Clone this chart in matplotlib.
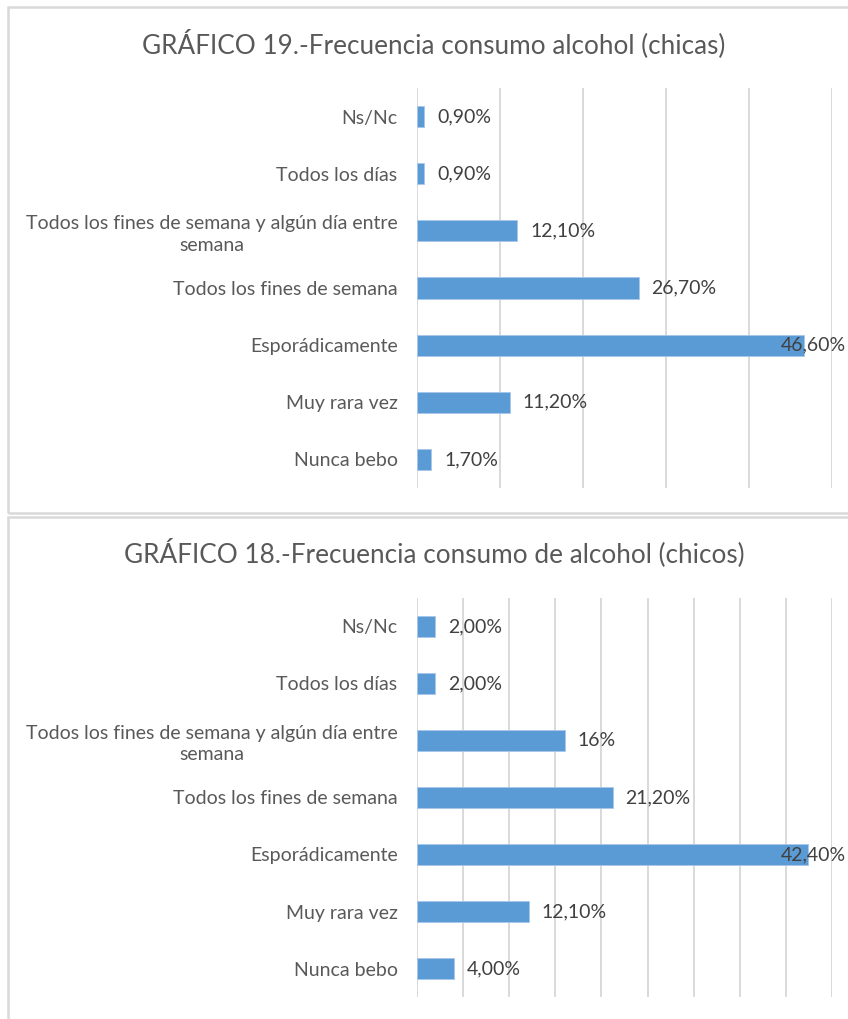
import numpy as np
import matplotlib
matplotlib.use('Agg')
import matplotlib.pyplot as plt
from matplotlib.patches import Rectangle
import matplotlib.transforms as mtrans

plt.rcParams['font.family'] = ['Lato', 'DejaVu Sans']

# Datos
categorias = ['Ns/Nc', 'Todos los días',
              'Todos los fines de semana y algún día entre\nsemana',
              'Todos los fines de semana', 'Esporádicamente',
              'Muy rara vez', 'Nunca bebo']
chicas = [0.9, 0.9, 12.1, 26.7, 46.6, 11.2, 1.7]
chicas_etiquetas = ['0,90%', '0,90%', '12,10%', '26,70%', '46,60%', '11,20%', '1,70%']
chicos = [2.0, 2.0, 16.0, 21.2, 42.4, 12.1, 4.0]
chicos_etiquetas = ['2,00%', '2,00%', '16%', '21,20%', '42,40%', '12,10%', '4,00%']

W, H = 848, 1019
BAR = '#5B9BD5'
GRID = '#D9D9D9'
TXT = '#595959'
FS = 14

fig = plt.figure(figsize=(W / 100, H / 100), dpi=100)
fig.patch.set_facecolor('white')

# Marcos de los graficos
for (x0, y0, x1, y1) in [(8, 7, 900, 513), (8, 517, 900, 1100)]:
    fig.patches.append(Rectangle((x0 / W, 1 - y1 / H), (x1 - x0) / W, (y1 - y0) / H,
                                 transform=fig.transFigure, fill=False,
                                 edgecolor=GRID, linewidth=1.8))


def dibujar(top, bottom, valores, etiquetas, xmax, paso, titulo, ytitulo):
    ax = fig.add_axes([417 / W, 1 - bottom / H, 415 / W, (bottom - top) / H])
    y = np.arange(len(categorias))
    ax.barh(y, valores, height=0.37, color=BAR, edgecolor='#A9C8EA', linewidth=0.6, zorder=3)
    ax.set_xlim(0, xmax)
    ax.set_ylim(len(categorias) - 0.5, -0.5)
    ax.set_xticks(np.arange(0, xmax + 0.01, paso))
    ax.set_xticklabels([])
    ax.tick_params(axis='x', length=0)
    ax.tick_params(axis='y', length=0, pad=14, labelsize=FS, labelcolor=TXT)
    ax.set_yticks(y)
    ax.set_yticklabels(categorias, multialignment='center', linespacing=1.3)
    ax.grid(axis='x', color=GRID, linewidth=1.4, zorder=0)
    for s in ax.spines.values():
        s.set_visible(False)

    trans = mtrans.blended_transform_factory(ax.transAxes, ax.transData)
    for yi, v, lab in zip(y, valores, etiquetas):
        if v / xmax > 0.9:
            ax.annotate(lab, xy=(1, yi), xycoords=trans, xytext=(14, 0),
                        textcoords='offset pixels', ha='right', va='center',
                        fontsize=FS, color='#404040', annotation_clip=False, zorder=4)
        else:
            ax.annotate(lab, xy=(v, yi), xytext=(13, 0), textcoords='offset pixels',
                        ha='left', va='center', fontsize=FS, color='#404040',
                        annotation_clip=False)

    fig.text(434 / W, 1 - ytitulo / H, titulo, ha='center', va='center',
             fontsize=18.8, color=TXT)
    return ax


dibujar(88, 488, chicas, chicas_etiquetas, 50, 10,
        'GRÁFICO 19.-Frecuencia consumo alcohol (chicas)', 44)
dibujar(598, 997, chicos, chicos_etiquetas, 45, 5,
        'GRÁFICO 18.-Frecuencia consumo de alcohol (chicos)', 553)

fig.savefig('out.png', dpi=100)
